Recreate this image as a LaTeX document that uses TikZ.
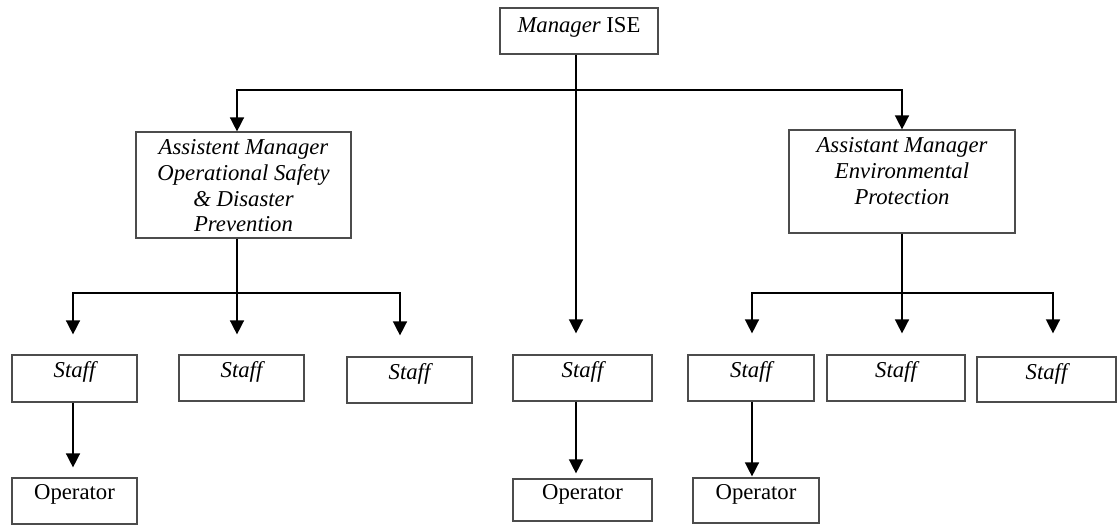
\documentclass[tikz,border=0pt]{standalone}
\usepackage{fontspec}
\setmainfont{Liberation Serif}
\usetikzlibrary{arrows.meta}
\begin{document}
\begin{tikzpicture}[x=1pt,y=-1pt,
  box/.style={draw=black!70, line width=1.2pt, inner sep=0pt},
  lbl/.style={anchor=north, inner sep=0pt, align=center, font=\fontsize{22.7}{25.7}\selectfont\itshape},
  conn/.style={line width=1.5pt, black},
  arr/.style={conn, -{Triangle[length=14pt,width=14pt]}},
]
\useasboundingbox (0,0) rectangle (1119,525);
% boxes
\node[box, minimum width=158pt, minimum height=46pt,
  label={[lbl,yshift=-10pt]north:{Manager \upshape ISE}}] (mgr) at (579,31) {};
\node[box, minimum width=215pt, minimum height=106pt,
  label={[lbl,yshift=-8pt]north:{Assistent Manager\\Operational Safety\\\& Disaster\\Prevention}}] (amL) at (243.5,185) {};
\node[box, minimum width=226pt, minimum height=103pt,
  label={[lbl,yshift=-8pt]north:{Assistant Manager\\Environmental\\Protection}}] (amR) at (902,181.5) {};
\node[box, minimum width=125pt, minimum height=47pt, label={[lbl,yshift=-7pt]north:Staff}] (sL1) at (74.5,378.5) {};
\node[box, minimum width=125pt, minimum height=46pt, label={[lbl,yshift=-7pt]north:Staff}] (sL2) at (241.5,378) {};
\node[box, minimum width=125pt, minimum height=46pt, label={[lbl,yshift=-7pt]north:Staff}] (sL3) at (409.5,380) {};
\node[box, minimum width=139pt, minimum height=46pt, label={[lbl,yshift=-7pt]north:Staff}] (sM) at (582.5,378) {};
\node[box, minimum width=126pt, minimum height=46pt, label={[lbl,yshift=-7pt]north:Staff}] (sR1) at (751,378) {};
\node[box, minimum width=138pt, minimum height=46pt, label={[lbl,yshift=-7pt]north:Staff}] (sR2) at (896,378) {};
\node[box, minimum width=139pt, minimum height=45pt, label={[lbl,yshift=-7pt]north:Staff}] (sR3) at (1046.5,379.5) {};
\node[box, minimum width=125pt, minimum height=46pt, label={[lbl,yshift=-7pt]north:\upshape Operator}] (oL) at (74.5,501) {};
\node[box, minimum width=139pt, minimum height=42pt, label={[lbl,yshift=-6pt]north:\upshape Operator}] (oM) at (582.5,500) {};
\node[box, minimum width=126pt, minimum height=45pt, label={[lbl,yshift=-7pt]north:\upshape Operator}] (oR) at (756,500.5) {};
% x positions of connectors
\coordinate (xM) at (576,0);
\coordinate (xAL) at (237,0);
\coordinate (xL1) at (73,0);
\coordinate (xL3) at (400,0);
\coordinate (xR1) at (752,0);
\coordinate (xAR) at (902,0);
\coordinate (xR3) at (1053,0);
\coordinate (busTop) at (576,90);
\coordinate (busL) at (237,293);
\coordinate (busR) at (902,293);
% connectors
\draw[arr, shorten >=21pt] (mgr.south -| xM) -- (sM.north -| xM);
\draw[arr] (busTop) -| (amL.north -| xAL);
\draw[arr] (busTop) -| (amR.north -| xAR);
\draw[conn] (amL.south -| xAL) -- (busL);
\draw[arr, shorten >=20pt] (busL) -| (sL1.north -| xL1);
\draw[arr, shorten >=20pt] (busL) -- (sL2.north -| xAL);
\draw[arr, shorten >=21pt] (busL) -| (sL3.north -| xL3);
\draw[conn] (amR.south -| xAR) -- (busR);
\draw[arr, shorten >=21pt] (busR) -| (sR1.north -| xR1);
\draw[arr, shorten >=21pt] (busR) -- (sR2.north -| xAR);
\draw[arr, shorten >=23pt] (busR) -| (sR3.north -| xR3);
\draw[arr, shorten >=10pt] (sL1.south -| xL1) -- (oL.north -| xL1);
\draw[arr, shorten >=5pt] (sM.south -| xM) -- (oM.north -| xM);
\draw[arr, shorten >=1pt] (sR1.south -| xR1) -- (oR.north -| xR1);
\end{tikzpicture}
\end{document}
